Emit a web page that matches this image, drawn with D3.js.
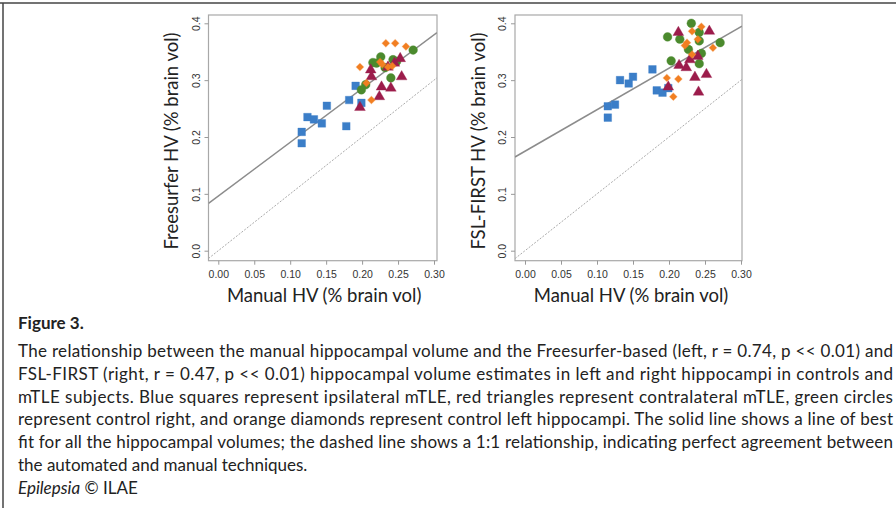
<!DOCTYPE html>
<html>
<head>
<meta charset="utf-8">
<script src="https://cdn.jsdelivr.net/npm/d3@7"></script>
<style>
  html, body { margin: 0; padding: 0; background: #fff; }
  svg { display: block; font-family: Lato, "Open Sans", sans-serif; }
</style>
</head>
<body>
<svg id="fig" width="896" height="508"></svg>
<script>
// ---- data ----
const xTicks = [0, 0.05, 0.10, 0.15, 0.20, 0.25, 0.30];
const yTicks = [0, 0.1, 0.2, 0.3, 0.4];

// left panel: manual vs Freesurfer  [manual, automated]
const fsIpsi = [[0.116,0.209],[0.116,0.189],[0.124,0.235],[0.133,0.231],[0.144,0.224],
                [0.151,0.255],[0.178,0.219],[0.182,0.265],[0.191,0.290],[0.199,0.260]];
const fsContra = [[0.212,0.318],[0.213,0.306],[0.253,0.338],[0.255,0.306],[0.227,0.288],
                  [0.240,0.286],[0.224,0.271],[0.197,0.252],[0.245,0.330],[0.236,0.323]];
const fsCtrlR = [[0.271,0.353],[0.226,0.341],[0.215,0.331],[0.243,0.336],[0.248,0.333],
                 [0.240,0.304],[0.232,0.322],[0.205,0.292],[0.199,0.283],[0.220,0.330]];
const fsCtrlL = [[0.233,0.365],[0.246,0.365],[0.261,0.359],[0.197,0.323],[0.225,0.332],
                 [0.236,0.323],[0.242,0.325],[0.206,0.295],[0.213,0.265],[0.228,0.328]];
const fsFit = [0.096, 0.946];   // intercept, slope

// right panel: manual vs FSL-FIRST
const firstIpsi = [[0.115,0.254],[0.115,0.234],[0.125,0.257],[0.132,0.300],[0.144,0.294],
                   [0.150,0.306],[0.177,0.319],[0.183,0.282],[0.191,0.278],[0.199,0.286]];
const firstContra = [[0.213,0.384],[0.256,0.386],[0.229,0.336],[0.214,0.326],[0.224,0.322],
                     [0.240,0.342],[0.236,0.305],[0.252,0.310],[0.241,0.279],[0.199,0.288]];
const firstCtrlR = [[0.231,0.400],[0.198,0.376],[0.215,0.372],[0.242,0.384],[0.242,0.369],
                    [0.271,0.366],[0.227,0.354],[0.245,0.347],[0.203,0.334],[0.242,0.329]];
const firstCtrlL = [[0.245,0.394],[0.232,0.386],[0.225,0.366],[0.222,0.361],[0.240,0.372],
                    [0.261,0.357],[0.232,0.345],[0.197,0.304],[0.213,0.302],[0.206,0.271]];
const firstFit = [0.175, 0.73];

const captionLines = [
  "The relationship between the manual hippocampal volume and the Freesurfer-based (left, r = 0.74, p << 0.01) and",
  "FSL-FIRST (right, r = 0.47, p << 0.01) hippocampal volume estimates in left and right hippocampi in controls and",
  "mTLE subjects. Blue squares represent ipsilateral mTLE, red triangles represent contralateral mTLE, green circles",
  "represent control right, and orange diamonds represent control left hippocampi. The solid line shows a line of best",
  "fit for all the hippocampal volumes; the dashed line shows a 1:1 relationship, indicating perfect agreement between",
  "the automated and manual techniques."
];

const svg = d3.select("#fig");

// outer page frame
svg.append("line").attr("x1", 0).attr("x2", 896).attr("y1", 3).attr("y2", 3)
  .attr("stroke", "#444").attr("stroke-width", 1.5);
svg.append("line").attr("x1", 3).attr("x2", 3).attr("y1", 3).attr("y2", 508)
  .attr("stroke", "#444").attr("stroke-width", 1.5);

function panel(opt) {
  const x = d3.scaleLinear().domain([0, 0.3]).range(opt.xr);
  const y = d3.scaleLinear().domain([0, 0.4]).range([250.7, 23.3]);
  const box = opt.box; // [left, right, top, bottom]
  const g = svg.append("g");

  g.append("rect")
    .attr("x", box[0]).attr("y", box[2])
    .attr("width", box[1] - box[0]).attr("height", box[3] - box[2])
    .attr("fill", "none").attr("stroke", "#a8a8a8").attr("stroke-width", 1.2);

  const xAx = g.append("g").attr("transform", `translate(0,${box[3]})`)
    .call(d3.axisBottom(x).tickValues(xTicks).tickFormat(d3.format(".2f")).tickSize(4).tickSizeOuter(0));
  xAx.select(".domain").remove();
  xAx.selectAll("line").attr("stroke", "#999");
  xAx.selectAll("text").attr("fill", "#333").style("font-size", "10.5px").attr("dy", "0.95em");

  const yAx = g.append("g").attr("transform", `translate(${box[0]},0)`)
    .call(d3.axisLeft(y).tickValues(yTicks).tickFormat(d3.format(".1f")).tickSize(4).tickSizeOuter(0));
  yAx.select(".domain").remove();
  yAx.selectAll("line").attr("stroke", "#999");
  yAx.selectAll("text")
    .attr("fill", "#333").style("font-size", "10.5px")
    .attr("x", null).attr("dy", null)
    .attr("text-anchor", "middle")
    .attr("transform", "translate(-9,0) rotate(-90)");

  const x0 = x.invert(box[0]), x1 = x.invert(box[1]);

  const clipId = "clip" + opt.id;
  g.append("clipPath").attr("id", clipId).append("rect")
    .attr("x", box[0]).attr("y", box[2]).attr("width", box[1] - box[0]).attr("height", box[3] - box[2]);
  const plot = g.append("g").attr("clip-path", `url(#${clipId})`);

  // 1:1 line
  plot.append("line")
    .attr("x1", x(x0)).attr("y1", y(x0)).attr("x2", x(x1)).attr("y2", y(x1))
    .attr("stroke", "#aaa").attr("stroke-width", 1).attr("stroke-dasharray", "2,1.5");
  // best fit line
  const f = opt.fit;
  plot.append("line")
    .attr("x1", x(x0)).attr("y1", y(f[0] + f[1] * x0))
    .attr("x2", x(x1)).attr("y2", y(f[0] + f[1] * x1))
    .attr("stroke", "#8c8c8c").attr("stroke-width", 1.5);

  const series = [
    { data: opt.ipsi,   type: d3.symbolSquare,   size: 58, color: "#3b7ec8", rot: 0 },
    { data: opt.ctrlR,  type: d3.symbolCircle,   size: 60, color: "#4b8a2d", rot: 0 },
    { data: opt.contra, type: d3.symbolTriangle, size: 50, color: "#9c1c4b", rot: 0 },
    { data: opt.ctrlL,  type: d3.symbolSquare,   size: 28, color: "#f27f22", rot: 45 }
  ];
  series.forEach(s => {
    plot.selectAll(null).data(s.data).join("path")
      .attr("d", d3.symbol().type(s.type).size(s.size))
      .attr("transform", d => `translate(${x(d[0])},${y(d[1])}) rotate(${s.rot})`)
      .attr("fill", s.color)
      .attr("stroke", s.color).attr("stroke-opacity", 0.35).attr("stroke-width", 1);
  });

  g.append("text")
    .attr("x", (opt.xr[0] + opt.xr[1]) / 2 - 2).attr("y", 302)
    .attr("text-anchor", "middle").attr("fill", "#222")
    .style("font-size", "18.5px").text("Manual HV (% brain vol)");
  g.append("text")
    .attr("transform", `translate(${opt.yTitleX},141) rotate(-90)`)
    .attr("text-anchor", "middle").attr("fill", "#222")
    .style("font-size", "18.5px").text(opt.yTitle);
}

panel({ id: 1, xr: [218.3, 434], box: [208.5, 437, 15, 260.7], fit: fsFit,
        ipsi: fsIpsi, contra: fsContra, ctrlR: fsCtrlR, ctrlL: fsCtrlL,
        yTitle: "Freesurfer HV (% brain vol)", yTitleX: 178 });
panel({ id: 2, xr: [525, 741], box: [515, 742, 15, 260.7], fit: firstFit,
        ipsi: firstIpsi, contra: firstContra, ctrlR: firstCtrlR, ctrlL: firstCtrlL,
        yTitle: "FSL-FIRST HV (% brain vol)", yTitleX: 485 });

// caption
svg.append("text").attr("x", 18).attr("y", 329)
  .attr("fill", "#222").style("font-size", "17px").style("font-weight", "bold")
  .text("Figure 3.");

captionLines.forEach((t, i) => {
  const txt = svg.append("text").attr("x", 18).attr("y", 357 + i * 22.8)
    .attr("fill", "#222").style("font-size", "17px").text(t);
  if (i < captionLines.length - 1) {
    txt.attr("textLength", 875).attr("lengthAdjust", "spacing");
  }
});

const ep = svg.append("text").attr("x", 18).attr("y", 494)
  .attr("fill", "#222").style("font-size", "17px");
ep.append("tspan").style("font-style", "italic").text("Epilepsia");
ep.append("tspan").text(" © ILAE");
</script>
</body>
</html>
